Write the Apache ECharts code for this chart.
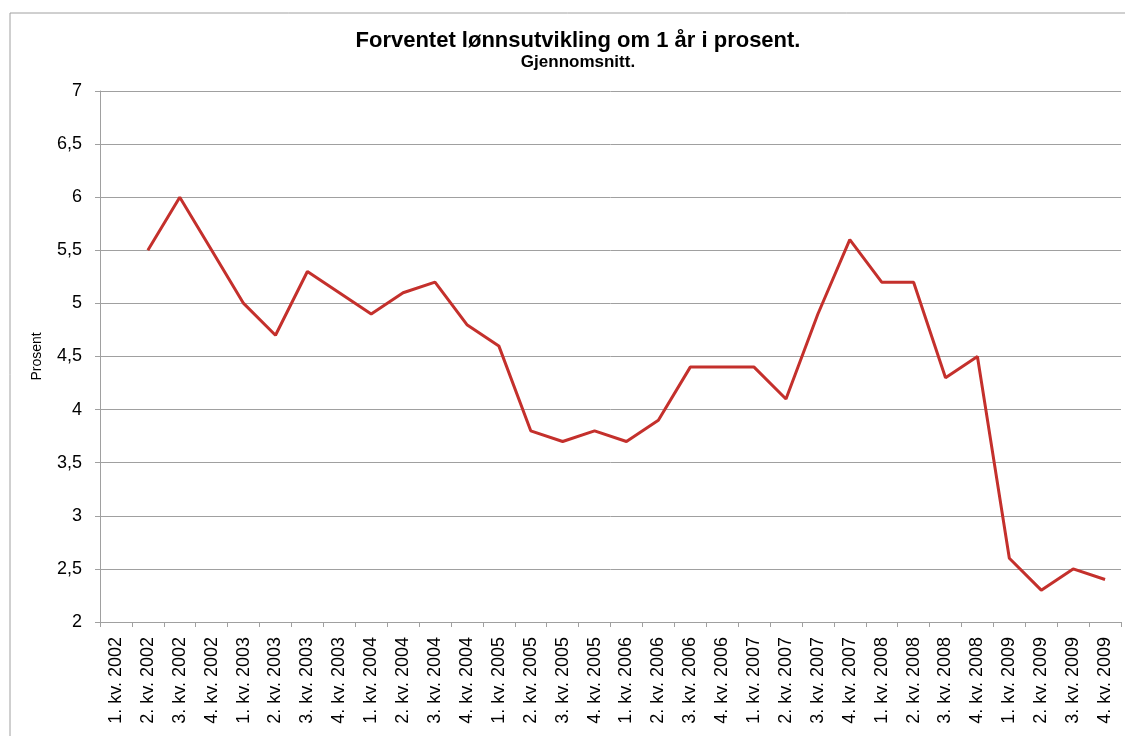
<!DOCTYPE html>
<html>
<head>
<meta charset="utf-8">
<script src="https://cdn.jsdelivr.net/npm/echarts@6/dist/echarts.min.js"></script>
<style>
html,body{margin:0;padding:0;background:#fff;}
#main{width:1125px;height:736px;}
</style>
</head>
<body>
<div id="main"></div>
<script>
// quarters and values (prosent)
var categories = [
	'1. kv. 2002','2. kv. 2002','3. kv. 2002','4. kv. 2002',
	'1. kv. 2003','2. kv. 2003','3. kv. 2003','4. kv. 2003',
	'1. kv. 2004','2. kv. 2004','3. kv. 2004','4. kv. 2004',
	'1. kv. 2005','2. kv. 2005','3. kv. 2005','4. kv. 2005',
	'1. kv. 2006','2. kv. 2006','3. kv. 2006','4. kv. 2006',
	'1. kv. 2007','2. kv. 2007','3. kv. 2007','4. kv. 2007',
	'1. kv. 2008','2. kv. 2008','3. kv. 2008','4. kv. 2008',
	'1. kv. 2009','2. kv. 2009','3. kv. 2009','4. kv. 2009'
];
var values = [
	null, 5.5, 6.0, 5.5,
	5.0, 4.7, 5.3, 5.1,
	4.9, 5.1, 5.2, 4.8,
	4.6, 3.8, 3.7, 3.8,
	3.7, 3.9, 4.4, 4.4,
	4.4, 4.1, 4.9, 5.6,
	5.2, 5.2, 4.3, 4.5,
	2.6, 2.3, 2.5, 2.4
];
var yMin = 2, yMax = 7, yStep = 0.5;

var myChart = echarts.init(document.getElementById('main'));
var font = '"Liberation Sans", Arial, sans-serif';

var option = {
	animation: false,
	backgroundColor: '#fff',
	title: {
		text: 'Forventet lønnsutvikling om 1 år i prosent.',
		subtext: 'Gjennomsnitt.',
		left: 573,
		textAlign: 'center',
		top: 25,
		itemGap: 2,
		textStyle: {fontFamily: font, fontSize: 22, fontWeight: 'bold', color: '#000'},
		subtextStyle: {fontFamily: font, fontSize: 17, fontWeight: 'bold', color: '#000'}
	},
	graphic: [
		{type: 'polyline', shape: {points: [[10, 736], [10, 13], [1125, 13]]},
			style: {stroke: '#a0a0a0', lineWidth: 1, fill: null}}
	],
	grid: {left: 100, right: 4, top: 91, bottom: 114, containLabel: false},
	xAxis: {
		type: 'category',
		data: categories,
		boundaryGap: true,
		axisLine: {lineStyle: {color: '#a0a0a0'}},
		axisTick: {show: true, alignWithLabel: false, length: 5, lineStyle: {color: '#a0a0a0'}},
		axisLabel: {rotate: 90, interval: 0, margin: 15, fontFamily: font, fontSize: 18, color: '#000'}
	},
	yAxis: {
		type: 'value',
		min: yMin, max: yMax, interval: yStep,
		name: 'Prosent',
		nameLocation: 'middle',
		nameGap: 56,
		nameRotate: 90,
		nameTextStyle: {fontFamily: font, fontSize: 14, color: '#000'},
		axisLine: {show: true, lineStyle: {color: '#a0a0a0'}},
		axisTick: {show: true, length: 5, lineStyle: {color: '#a0a0a0'}},
		axisLabel: {
			margin: 18, fontFamily: font, fontSize: 18, color: '#000',
			formatter: function(v){ return String(v).replace('.', ','); }
		},
		splitLine: {show: true, lineStyle: {color: '#a0a0a0', width: 1}}
	},
	series: [{
		type: 'line',
		data: values,
		symbol: 'none',
		connectNulls: false,
		lineStyle: {color: '#c4302c', width: 3},
		itemStyle: {color: '#c4302c'}
	}]
};
myChart.setOption(option);
</script>
</body>
</html>
